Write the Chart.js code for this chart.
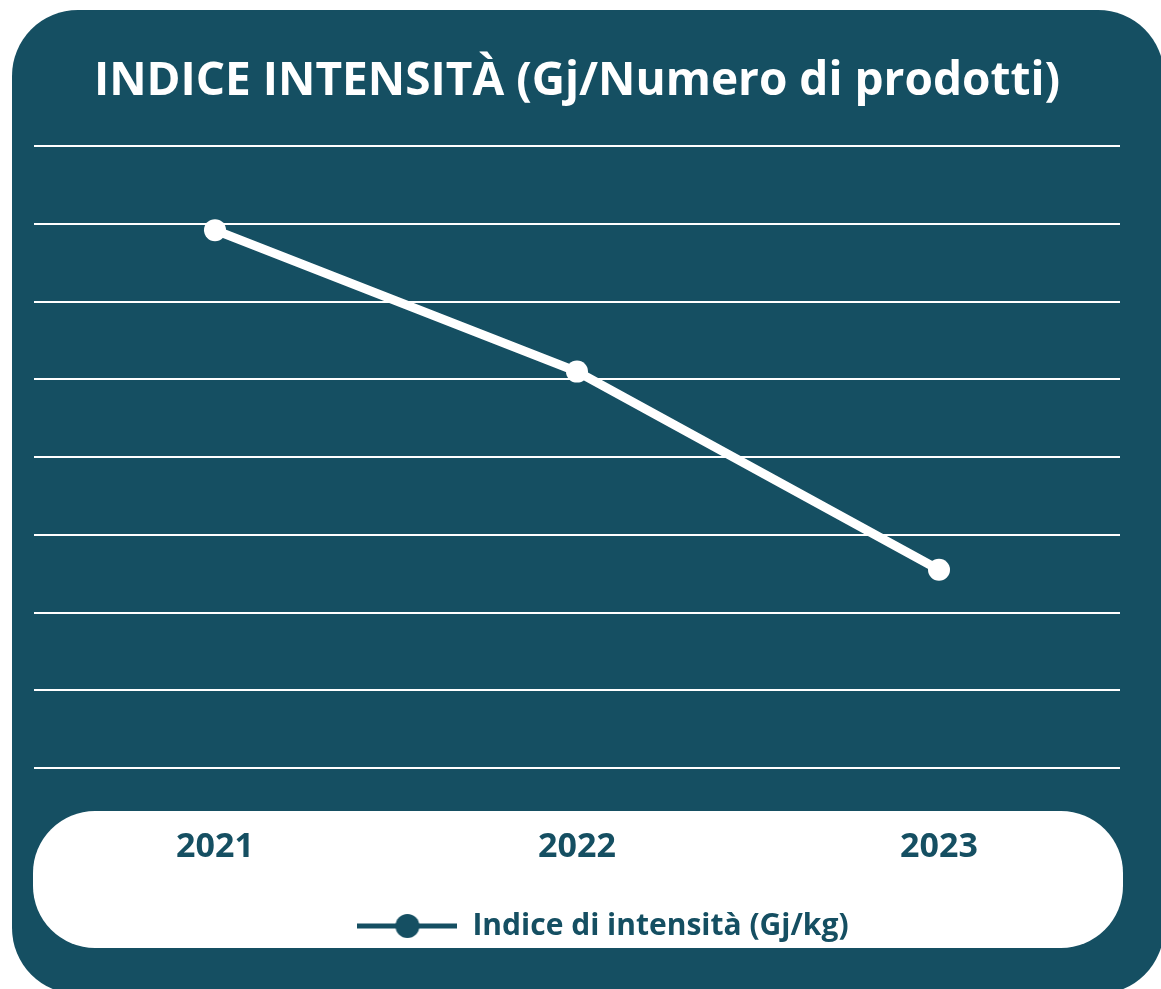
<!DOCTYPE html>
<html>
<head>
<meta charset="utf-8">
<script src="https://cdn.jsdelivr.net/npm/chart.js@4.4.1/dist/chart.umd.min.js"></script>
<style>
  html, body { margin: 0; padding: 0; background: #ffffff; }
  #wrap { width: 1161px; height: 989px; }
</style>
</head>
<body>
<div id="wrap"><canvas id="chart"></canvas></div>
<script>
// values (no y labels shown, scale 0..8)
const years = ['2021', '2022', '2023'];
const intensity = [6.92, 5.10, 2.55];
const seriesName = 'Indice di intensità (Gj/kg)';
const title = 'INDICE INTENSITÀ (Gj/Numero di prodotti)';

const TEAL = '#154f62';

// legend marker: line with a dot in the middle
function legendMarker() {
    const c = document.createElement('canvas');
    c.width = 100;
    c.height = 26;
    const g = c.getContext('2d');
    g.strokeStyle = TEAL;
    g.lineWidth = 5;
    g.beginPath();
    g.moveTo(0, 13);
    g.lineTo(100, 13);
    g.stroke();
    g.fillStyle = TEAL;
    g.beginPath();
    g.arc(50, 13, 12, 0, Math.PI * 2);
    g.fill();
    return c;
}

function roundRect(ctx, x, y, w, h, r) {
    ctx.beginPath();
    ctx.moveTo(x + r, y);
    ctx.lineTo(x + w - r, y);
    ctx.arcTo(x + w, y, x + w, y + r, r);
    ctx.lineTo(x + w, y + h - r);
    ctx.arcTo(x + w, y + h, x + w - r, y + h, r);
    ctx.lineTo(x + r, y + h);
    ctx.arcTo(x, y + h, x, y + h - r, r);
    ctx.lineTo(x, y + r);
    ctx.arcTo(x, y, x + r, y, r);
    ctx.closePath();
}

const panels = {
    id: 'panels',
    afterLayout(chart) {
        // legend sits a bit right of centre in the original
        chart.legend.left += 26;
        chart.legend.right += 26;
    },
    beforeDraw(chart) {
        const ctx = chart.ctx;
        const a = chart.chartArea;
        ctx.save();
        ctx.fillStyle = TEAL;
        roundRect(ctx, 12, 10, 1152, 984, 66);
        ctx.fill();
        ctx.fillStyle = '#ffffff';
        roundRect(ctx, a.left - 1, a.bottom + 43, a.right - a.left + 4, 137, 62);
        ctx.fill();
        ctx.restore();
    }
};

Chart.defaults.font.family = '"Open Sans", "Noto Sans", sans-serif';

new Chart(document.getElementById('chart'), {
    type: 'line',
    data: {
        labels: years,
        datasets: [{
            label: seriesName,
            data: intensity,
            borderColor: '#ffffff',
            backgroundColor: '#ffffff',
            borderWidth: 9,
            pointRadius: 11,
            pointHoverRadius: 11,
            pointBorderWidth: 0,
            pointBackgroundColor: '#ffffff',
            tension: 0
        }]
    },
    options: {
        responsive: true,
        maintainAspectRatio: false,
        animation: false,
        layout: { padding: { left: 34, right: 41, top: 0, bottom: 38 } },
        plugins: {
            title: {
                display: true,
                text: title,
                color: '#ffffff',
                font: { size: 46, weight: 'bold' },
                padding: { top: 54, bottom: 37 }
            },
            legend: {
                position: 'bottom',
                labels: {
                    color: TEAL,
                    font: { size: 30, weight: 'bold' },
                    usePointStyle: true,
                    pointStyle: legendMarker(),
                    pointStyleWidth: 100,
                    boxHeight: 26,
                    padding: 20
                }
            },
            tooltip: { enabled: false }
        },
        scales: {
            x: {
                offset: true,
                grid: { display: false, drawTicks: false },
                border: { display: false },
                ticks: {
                    color: TEAL,
                    font: { size: 34, weight: 'bold' },
                    padding: 59
                },
                afterFit(scale) { scale.height = 123; }
            },
            y: {
                min: 0,
                max: 8,
                ticks: { display: false, stepSize: 1 },
                border: { display: false },
                grid: { color: '#ffffff', lineWidth: 2, drawTicks: false }
            }
        }
    },
    plugins: [panels]
});
</script>
</body>
</html>
